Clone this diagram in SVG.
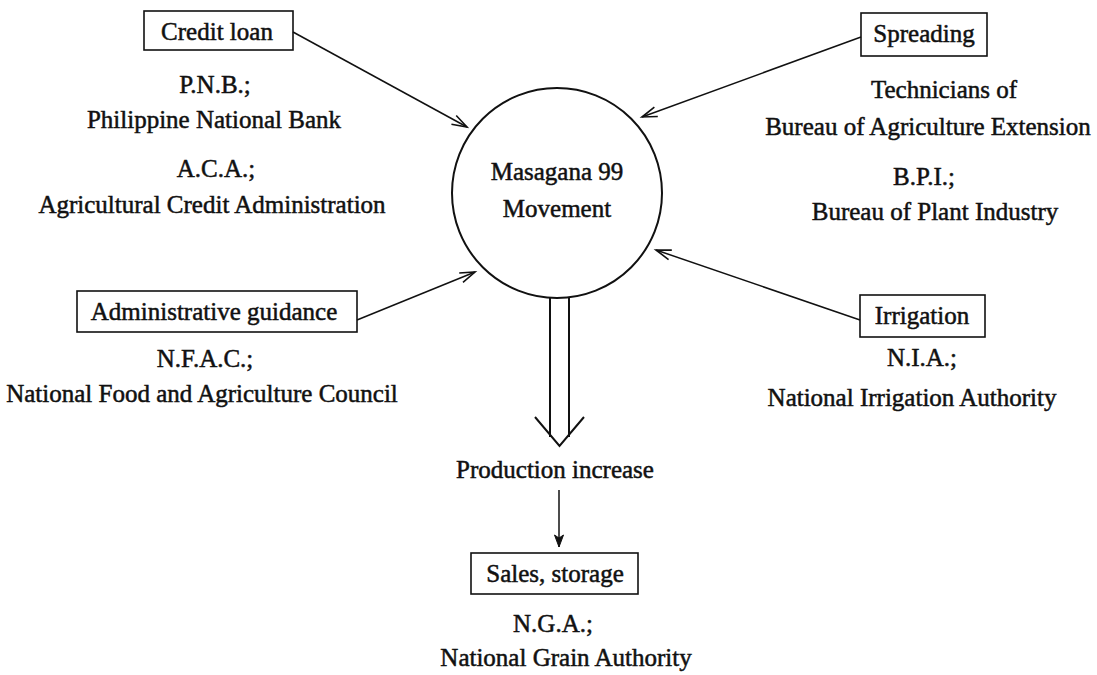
<svg xmlns="http://www.w3.org/2000/svg" width="1097" height="675" viewBox="0 0 1097 675">
  <defs>
    <style>
      text { font-family: "Liberation Serif", "Times New Roman", serif; font-size: 25px; fill: #111; stroke: #111; stroke-width: 0.5px; text-anchor: middle; }
      .box { fill: none; stroke: #111; stroke-width: 1.6; }
      .conn { fill: none; stroke: #111; stroke-width: 1.5; }
      .hollow { fill: none; stroke: #111; stroke-width: 2; }
    </style>
    <marker id="openArrow" markerUnits="userSpaceOnUse" markerWidth="20" markerHeight="14" viewBox="-16 -7 18 14" refX="0" refY="0" orient="auto">
      <path d="M-15,-5 L0,0 L-15,5" fill="none" stroke="#111" stroke-width="1.6"/>
    </marker>
    <marker id="solidArrow" markerUnits="userSpaceOnUse" markerWidth="14" markerHeight="16" viewBox="-13 -6 14 12" refX="0" refY="0" orient="auto">
      <path d="M-12,-4.5 L0,0 L-12,4.5 L-9,0 Z" fill="#111" stroke="#111" stroke-width="1"/>
    </marker>
  </defs>
  <rect width="1097" height="675" fill="#fff"/>

  <g id="connectors">
    <line class="conn" x1="293" y1="32" x2="467" y2="127" marker-end="url(#openArrow)"/>
    <line class="conn" x1="861" y1="37" x2="642" y2="117" marker-end="url(#openArrow)"/>
    <line class="conn" x1="357" y1="320" x2="475" y2="272" marker-end="url(#openArrow)"/>
    <line class="conn" x1="860" y1="320" x2="656" y2="250" marker-end="url(#openArrow)"/>
    <g id="hollow-arrow">
      <line class="hollow" x1="550" y1="297" x2="550" y2="437"/>
      <line class="hollow" x1="569" y1="297" x2="569" y2="437"/>
      <polyline class="hollow" points="535,417 559.5,446 584,417"/>
    </g>
    <line class="conn" x1="559" y1="490" x2="559" y2="547" marker-end="url(#solidArrow)"/>
  </g>

  <g id="masagana">
    <circle cx="557" cy="193" r="105" fill="none" stroke="#111" stroke-width="2"/>
    <text x="557" y="180">Masagana 99</text>
    <text x="557" y="217">Movement</text>
  </g>

  <g id="credit-loan">
    <rect class="box" x="144" y="11" width="149" height="39"/>
    <text x="217" y="40">Credit loan</text>
    <text x="215" y="93">P.N.B.;</text>
    <text x="214" y="128">Philippine National Bank</text>
    <text x="216" y="177">A.C.A.;</text>
    <text x="212" y="213">Agricultural Credit Administration</text>
  </g>

  <g id="spreading">
    <rect class="box" x="861" y="13" width="126" height="43"/>
    <text x="924" y="42">Spreading</text>
    <text x="944" y="98">Technicians of</text>
    <text x="928" y="135">Bureau of Agriculture Extension</text>
    <text x="924" y="185">B.P.I.;</text>
    <text x="935" y="220">Bureau of Plant Industry</text>
  </g>

  <g id="administrative-guidance">
    <rect class="box" x="77" y="291" width="280" height="41"/>
    <text x="214" y="320">Administrative guidance</text>
    <text x="205" y="367">N.F.A.C.;</text>
    <text x="202" y="402">National Food and Agriculture Council</text>
  </g>

  <g id="irrigation">
    <rect class="box" x="860" y="295" width="125" height="42"/>
    <text x="922" y="324">Irrigation</text>
    <text x="922" y="366">N.I.A.;</text>
    <text x="912" y="406">National Irrigation Authority</text>
  </g>

  <g id="production-increase">
    <text x="555" y="478">Production increase</text>
  </g>

  <g id="sales-storage">
    <rect class="box" x="471" y="553" width="167" height="41"/>
    <text x="555" y="582">Sales, storage</text>
    <text x="553" y="632">N.G.A.;</text>
    <text x="566" y="666">National Grain Authority</text>
  </g>
</svg>
